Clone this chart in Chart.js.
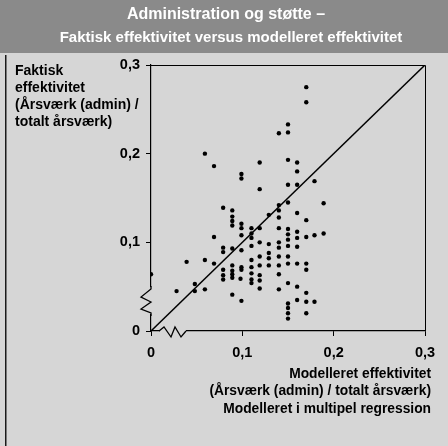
<!DOCTYPE html>
<html>
<head>
<meta charset="utf-8">
<script src="https://cdn.jsdelivr.net/npm/chart.js@4/dist/chart.umd.min.js"></script>
<style>
  html,body{margin:0;padding:0;background:#d6d6d6;}
  #wrap{position:relative;width:448px;height:446px;}
</style>
</head>
<body>
<div id="wrap"><canvas id="chart-eff" width="448" height="446"></canvas></div>
<script>
'use strict';

// Data
const TITLE = ['Administration og støtte –', 'Faktisk effektivitet versus modelleret effektivitet'];
const Y_TITLE = ['Faktisk', 'effektivitet', '(Årsværk (admin) /', 'totalt årsværk)'];
const X_TITLE = ['Modelleret effektivitet', '(Årsværk (admin) / totalt årsværk)', 'Modelleret i multipel regression'];
const TICKS = [0, 0.1, 0.2, 0.3];

// modelleret (x) / faktisk (y)
const modelled = [
  0.170,0.170,0.150,0.140,0.150,0.059,0.069,0.119,0.150,0.160,0.160,0.099,0.099,0.179,0.150,0.160,
  0.119,0.150,0.189,0.079,0.089,0.140,0.140,0.140,0.160,0.129,0.089,0.089,0.089,0.099,0.099,0.099,
  0.170,0.140,0.110,0.110,0.110,0.119,0.150,0.150,0.150,0.150,0.160,0.160,0.160,0.170,0.179,0.189,
  0.069,0.079,0.079,0.089,0.099,0.110,0.119,0.129,0.129,0.140,0.140,
  0.000,0.039,0.059,0.069,0.079,0.079,0.079,0.089,0.089,0.089,0.089,0.099,0.099,0.098,0.089,0.099,
  0.110,0.110,0.110,0.110,0.110,0.119,0.119,0.119,0.119,0.119,0.129,0.129,0.140,0.140,0.140,0.140,
  0.150,0.150,0.150,0.150,0.150,0.150,0.150,0.160,0.160,0.160,0.170,0.170,0.170,0.170,0.170,0.179,
  0.028,0.048,0.048,0.059
];
const actual = [
  0.275,0.258,0.233,0.223,0.224,0.200,0.186,0.190,0.193,0.190,0.180,0.177,0.172,0.169,0.165,0.165,
  0.160,0.145,0.144,0.139,0.136,0.142,0.136,0.128,0.133,0.131,0.129,0.124,0.119,0.121,0.116,0.108,
  0.125,0.116,0.116,0.110,0.105,0.116,0.115,0.109,0.103,0.096,0.112,0.105,0.095,0.106,0.108,0.110,
  0.106,0.094,0.089,0.093,0.091,0.096,0.100,0.098,0.088,0.100,0.094,
  0.064,0.078,0.080,0.076,0.069,0.063,0.058,0.074,0.068,0.064,0.060,0.072,0.069,0.059,0.041,0.034,
  0.080,0.072,0.065,0.058,0.054,0.084,0.074,0.063,0.057,0.048,0.082,0.074,0.084,0.074,0.064,0.047,
  0.084,0.076,0.054,0.031,0.026,0.020,0.014,0.076,0.050,0.035,0.076,0.069,0.043,0.033,0.020,0.033,
  0.045,0.053,0.045,0.047
];
const diagonal = [0, 0.3];

const FONT = 'Liberation Sans, Arial, sans-serif';
const BG = '#d6d6d6';
const fmt = v => v === 0 ? '0' : v.toFixed(1).replace('.', ',');

// band, frame, axis titles and axis breaks
const decor = {
  id: 'decor',
  beforeDraw(chart) {
    const c = chart.ctx;
    c.save();
    c.fillStyle = BG; c.fillRect(0, 0, 448, 446);
    c.fillStyle = '#8a8a8a'; c.fillRect(0, 0, 448, 53);
    c.fillStyle = '#1a1a1a'; c.fillRect(5, 55, 1.5, 391);
    c.restore();
  },
  afterDraw(chart) {
    const c = chart.ctx, a = chart.chartArea;
    c.save();
    c.textAlign = 'center'; c.textBaseline = 'middle';
    c.fillStyle = '#fff';
    c.font = 'bold 16px ' + FONT;
    c.fillText(TITLE[0], 226, 15);
    c.font = 'bold 15px ' + FONT;
    c.fillText(TITLE[1], 231, 38);
    c.fillStyle = '#000';
    c.font = 'bold 14px ' + FONT;
    c.textAlign = 'left';
    Y_TITLE.forEach((t, i) => c.fillText(t, 15, 71 + i * 17));
    c.textAlign = 'right';
    c.font = 'bold 13.8px ' + FONT;
    X_TITLE.forEach((t, i) => c.fillText(t, 431, 374 + i * 17.5));
    // top and right frame
    c.strokeStyle = '#000'; c.lineWidth = 1;
    c.beginPath();
    c.moveTo(a.left, a.top + 0.5); c.lineTo(a.right + 0.5, a.top + 0.5); c.lineTo(a.right + 0.5, a.bottom);
    c.stroke();
    // y axis break
    c.fillStyle = BG; c.fillRect(a.left - 2, 287, 4, 27);
    c.lineWidth = 1.3;
    c.beginPath();
    c.moveTo(a.left, 286); c.lineTo(a.left, 289); c.lineTo(141, 297); c.lineTo(151, 302);
    c.lineTo(141, 309); c.lineTo(a.left, 313); c.lineTo(a.left, 316);
    c.stroke();
    // x axis break
    c.fillStyle = BG; c.fillRect(160, a.bottom - 2, 26, 4);
    c.beginPath();
    c.moveTo(159, a.bottom); c.lineTo(164, 327); c.lineTo(171, 337); c.lineTo(175, 327);
    c.lineTo(181, 337); c.lineTo(186, a.bottom);
    c.stroke();
    c.restore();
  }
};

const axisCommon = {
  type: 'linear', min: 0, max: 0.3,
  border: {display: true, color: '#000', width: 1.2},
  grid: {drawOnChartArea: false, color: '#000', tickLength: 5, tickWidth: 1},
  afterBuildTicks: s => { s.ticks = TICKS.map(v => ({value: v})); }
};

new Chart(document.getElementById('chart-eff'), {
  data: {
    datasets: [
      {type: 'line', data: diagonal.map(v => ({x: v, y: v})), borderColor: '#000', borderWidth: 1.5,
       pointRadius: 0, fill: false},
      {type: 'scatter', data: modelled.map((x, i) => ({x, y: actual[i]})), backgroundColor: '#000',
       borderWidth: 0, pointRadius: 2.2}
    ]
  },
  options: {
    responsive: false, animation: false, devicePixelRatio: 1,
    layout: {padding: {left: 0, top: 65, right: 23, bottom: 75}},
    plugins: {legend: {display: false}, tooltip: {enabled: false}},
    scales: {
      x: {...axisCommon, position: 'bottom',
        ticks: {color: '#000', font: {family: FONT, size: 14.5, weight: 'bold'}, padding: 8, maxRotation: 0,
          callback: v => fmt(v)},
        afterFit: s => { s.height = 40; }},
      y: {...axisCommon, position: 'left',
        ticks: {color: '#000', font: {family: FONT, size: 14.5, weight: 'bold'}, padding: 6,
          callback: v => fmt(v)},
        afterFit: s => { s.width = 151; }}
    }
  },
  plugins: [decor]
});
</script>
</body>
</html>
